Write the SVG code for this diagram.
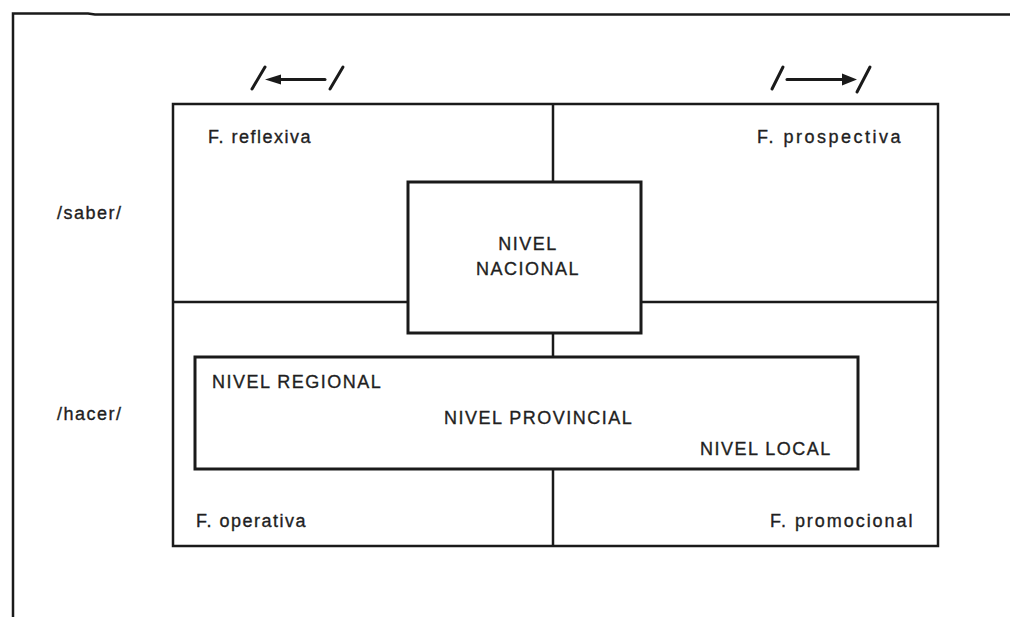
<svg xmlns="http://www.w3.org/2000/svg" width="1010" height="617" viewBox="0 0 1010 617">
  <defs>
    <style>
      .ln { stroke: #1a1a1a; stroke-width: 2.5; fill: none; }
      .box { stroke: #1a1a1a; stroke-width: 3; fill: #fff; }
      .mk { stroke: #1a1a1a; stroke-width: 3; fill: none; stroke-linecap: round; }
      .hd { fill: #1a1a1a; }
      .t { font-family: "Liberation Sans", Arial, sans-serif; font-size: 18px; letter-spacing: 1.5px; fill: #1f1f1f; stroke: #1f1f1f; stroke-width: 0.35; }
      .mid { text-anchor: middle; }
    </style>
  </defs>
  <rect width="1010" height="617" fill="#fff"/>

  <!-- page frame -->
  <g id="frame">
    <path class="ln" d="M13,617 V13.5 H88 L95,14.5 H1010"/>
  </g>

  <!-- quadrant grid and connecting lines -->
  <g id="connectors">
    <rect class="ln" x="173" y="104" width="765" height="442"/>
    <line class="ln" x1="553" y1="104" x2="553" y2="182"/>
    <line class="ln" x1="553" y1="333" x2="553" y2="357"/>
    <line class="ln" x1="553" y1="469" x2="553" y2="546"/>
    <line class="ln" x1="173" y1="302" x2="408" y2="302"/>
    <line class="ln" x1="641" y1="302" x2="938" y2="302"/>
  </g>

  <!-- direction marks -->
  <g id="dir-left">
    <line class="mk" x1="252" y1="89" x2="265" y2="67"/>
    <line class="mk" x1="278" y1="79.5" x2="325" y2="79.5"/>
    <polygon class="hd" points="265,79.5 281,74.5 281,84.5"/>
    <line class="mk" x1="330" y1="89" x2="343" y2="67"/>
  </g>
  <g id="dir-right">
    <line class="mk" x1="772" y1="89" x2="783" y2="67"/>
    <line class="mk" x1="787" y1="79.5" x2="845" y2="79.5"/>
    <polygon class="hd" points="857,79.5 842,73.5 842,85.5"/>
    <line class="mk" x1="857" y1="92" x2="870" y2="67"/>
  </g>

  <!-- axis labels -->
  <g id="saber"><text class="t" x="57" y="219">/saber/</text></g>
  <g id="hacer"><text class="t" x="57" y="420">/hacer/</text></g>

  <!-- quadrant labels -->
  <g id="f-reflexiva"><text class="t" x="208" y="143">F. reflexiva</text></g>
  <g id="f-prospectiva"><text class="t" x="757" y="143" textLength="145" lengthAdjust="spacing">F. prospectiva</text></g>
  <g id="f-operativa"><text class="t" x="196" y="527">F. operativa</text></g>
  <g id="f-promocional"><text class="t" x="770" y="527" textLength="144" lengthAdjust="spacing">F. promocional</text></g>

  <!-- national level -->
  <g id="nivel-nacional">
    <rect class="box" x="408" y="182" width="233" height="151"/>
    <text class="t mid" x="528" y="250">NIVEL</text>
    <text class="t mid" x="528" y="275">NACIONAL</text>
  </g>

  <!-- regional / provincial / local levels -->
  <g id="niveles-territoriales">
    <rect class="box" x="195" y="357" width="663" height="112"/>
    <text class="t" x="212" y="388">NIVEL REGIONAL</text>
    <text class="t" x="444" y="424">NIVEL PROVINCIAL</text>
    <text class="t" x="700" y="455">NIVEL LOCAL</text>
  </g>
</svg>
